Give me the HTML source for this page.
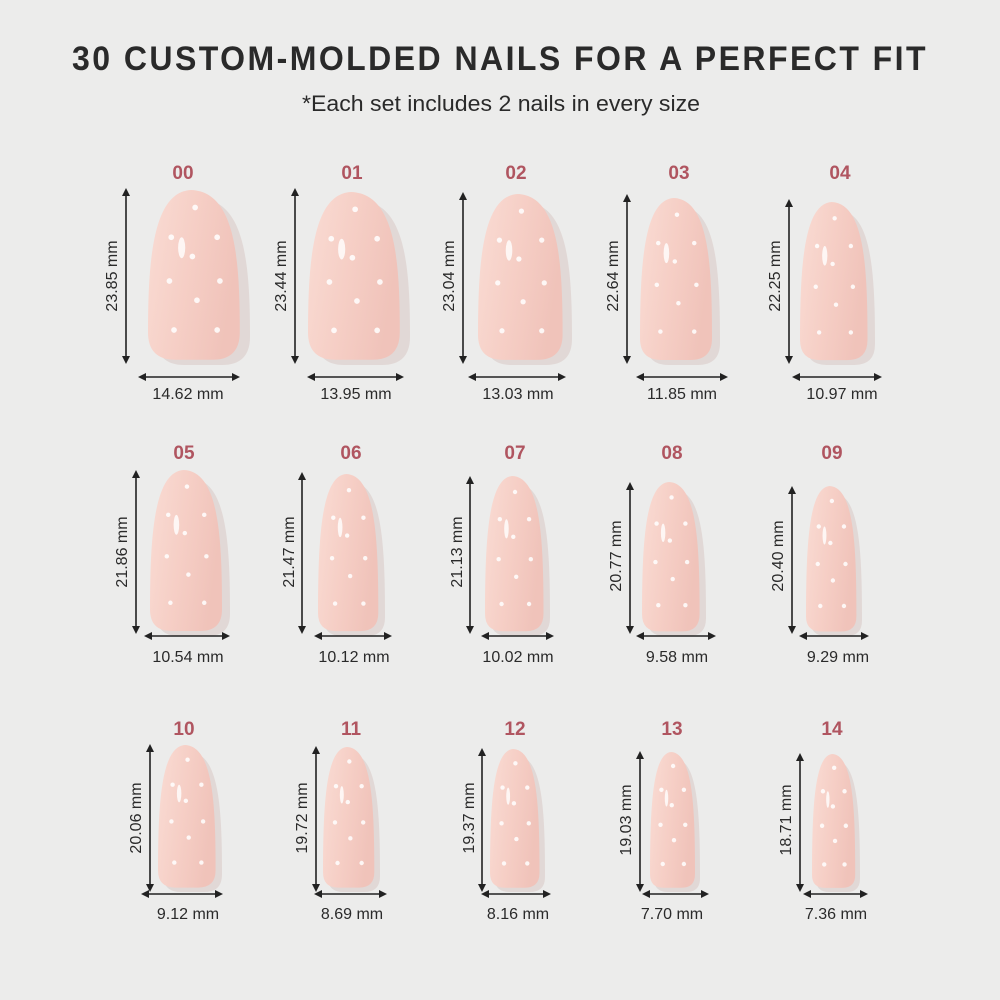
<!DOCTYPE html>
<html><head><meta charset="utf-8"><style>
html,body{margin:0;padding:0;background:#ececeb;}
svg{display:block;}
.t{font-family:"Liberation Sans",sans-serif;}
</style></head><body>
<svg id="s" width="1000" height="1000" viewBox="0 0 1000 1000" xmlns="http://www.w3.org/2000/svg">
<defs>
<linearGradient id="g" x1="0" y1="0" x2="1" y2="0.3">
<stop offset="0" stop-color="#f9dcd4"/><stop offset="0.5" stop-color="#f6cfc6"/><stop offset="1" stop-color="#f0c3ba"/>
</linearGradient>
<marker id="a" viewBox="0 0 10 10" refX="5" refY="5" markerWidth="5" markerHeight="5" orient="auto-start-reverse"><path d="M0,0 L10,5 L0,10 z" fill="#222"/></marker>
</defs>
<rect width="1000" height="1000" fill="#ececeb"/>
<text class="t" x="500" y="70" text-anchor="middle" font-size="34" font-weight="bold" letter-spacing="2.6" fill="#2a2a2a" textLength="856" lengthAdjust="spacingAndGlyphs">30 CUSTOM-MOLDED NAILS FOR A PERFECT FIT</text>
<text class="t" x="501" y="111" text-anchor="middle" font-size="22" fill="#2a2a2a" textLength="398" lengthAdjust="spacingAndGlyphs">*Each set includes 2 nails in every size</text>
<g id="nails"></g>
<g class="t" font-size="19" font-weight="bold" fill="#b05560" text-anchor="middle">
<text x="183" y="179">00</text><text x="352" y="179">01</text><text x="516" y="179">02</text><text x="679" y="179">03</text><text x="840" y="179">04</text>
<text x="184" y="459">05</text><text x="351" y="459">06</text><text x="515" y="459">07</text><text x="672" y="459">08</text><text x="832" y="459">09</text>
<text x="184" y="735">10</text><text x="351" y="735">11</text><text x="515" y="735">12</text><text x="672" y="735">13</text><text x="832" y="735">14</text>
</g>
<g class="t" font-size="16" fill="#2a2a2a" text-anchor="middle">
<text x="188" y="399">14.62 mm</text><text x="356" y="399">13.95 mm</text><text x="518" y="399">13.03 mm</text><text x="682" y="399">11.85 mm</text><text x="842" y="399">10.97 mm</text>
<text x="188" y="662">10.54 mm</text><text x="354" y="662">10.12 mm</text><text x="518" y="662">10.02 mm</text><text x="677" y="662">9.58 mm</text><text x="838" y="662">9.29 mm</text>
<text x="188" y="919">9.12 mm</text><text x="352" y="919">8.69 mm</text><text x="518" y="919">8.16 mm</text><text x="672" y="919">7.70 mm</text><text x="836" y="919">7.36 mm</text>
<text transform="translate(117,276) rotate(-90)">23.85 mm</text>
<text transform="translate(286,276) rotate(-90)">23.44 mm</text>
<text transform="translate(454,276) rotate(-90)">23.04 mm</text>
<text transform="translate(618,276) rotate(-90)">22.64 mm</text>
<text transform="translate(780,276) rotate(-90)">22.25 mm</text>
<text transform="translate(127,552) rotate(-90)">21.86 mm</text>
<text transform="translate(294,552) rotate(-90)">21.47 mm</text>
<text transform="translate(462,552) rotate(-90)">21.13 mm</text>
<text transform="translate(621,556) rotate(-90)">20.77 mm</text>
<text transform="translate(783,556) rotate(-90)">20.40 mm</text>
<text transform="translate(141,818) rotate(-90)">20.06 mm</text>
<text transform="translate(307,818) rotate(-90)">19.72 mm</text>
<text transform="translate(474,818) rotate(-90)">19.37 mm</text>
<text transform="translate(631,820) rotate(-90)">19.03 mm</text>
<text transform="translate(791,820) rotate(-90)">18.71 mm</text>
</g>
</svg>
<script>
var N=[
[148,250,190,365,126,192,360,142,236,377],
[308,410,192,365,295,192,360,311,400,377],
[478,572,194,365,463,196,360,472,562,377],
[640,720,198,365,627,198,360,640,724,377],
[800,875,202,365,789,203,360,796,878,377],
[150,230,470,636,136,474,630,148,226,636],
[318,385,474,636,302,476,630,318,388,636],
[485,550,476,636,470,480,630,485,550,636],
[642,706,482,636,630,486,630,640,712,636],
[806,862,486,636,792,490,630,803,865,636],
[158,222,745,892,150,748,888,145,219,894],
[323,380,747,892,316,750,888,318,383,894],
[490,545,749,892,482,752,888,485,547,894],
[650,700,752,892,640,755,888,646,705,894],
[812,860,754,892,800,757,888,807,864,894]];
var ns="http://www.w3.org/2000/svg",G=document.getElementById("nails");
function el(t,a){var e=document.createElementNS(ns,t);for(var k in a)e.setAttribute(k,a[k]);G.appendChild(e);return e;}
function shape(l,r,t,b){var cx=(l+r)/2-(r-l)*0.03,h=b-t,w=r-l,rr=w*0.3;
return "M"+cx+","+t+" C"+(r-w*0.05)+","+(t+h*0.01)+" "+r+","+(t+h*0.4)+" "+r+","+(b-rr)+" Q"+r+","+b+" "+(r-rr)+","+b+" L"+(l+rr)+","+b+" Q"+l+","+b+" "+l+","+(b-rr)+" C"+l+","+(t+h*0.4)+" "+(l+w*0.06)+","+(t+h*0.01)+" "+cx+","+t+"Z";}
N.forEach(function(n){var l=n[0],r=n[1],t=n[2],b=n[3],w=r-l,h=b-t;
el("path",{d:shape(l+w*0.08,r,t+h*0.05,b),fill:"#ddd0cd",opacity:"0.7"});
el("path",{d:shape(l,r-w*0.1,t,b-h*0.03),fill:"url(#g)"});
el("ellipse",{cx:l+w*0.33,cy:t+h*0.33,rx:w*0.035,ry:h*0.06,fill:"#fff",opacity:"0.8"});
var dots=[[0.48,0.1],[0.22,0.27],[0.72,0.27],[0.45,0.38],[0.2,0.52],[0.75,0.52],[0.5,0.63],[0.25,0.8],[0.72,0.8]];
dots.forEach(function(d){el("circle",{cx:l+w*0.9*d[0]+w*0.03,cy:t+h*d[1],r:Math.max(2.2,w*0.028),fill:"#fff",opacity:"0.85"});});
el("line",{x1:n[4],y1:n[5],x2:n[4],y2:n[6],stroke:"#222","stroke-width":1.6,"marker-start":"url(#a)","marker-end":"url(#a)"});
el("line",{x1:n[7],y1:n[9],x2:n[8],y2:n[9],stroke:"#222","stroke-width":1.6,"marker-start":"url(#a)","marker-end":"url(#a)"});
});
</script>
</body></html>
